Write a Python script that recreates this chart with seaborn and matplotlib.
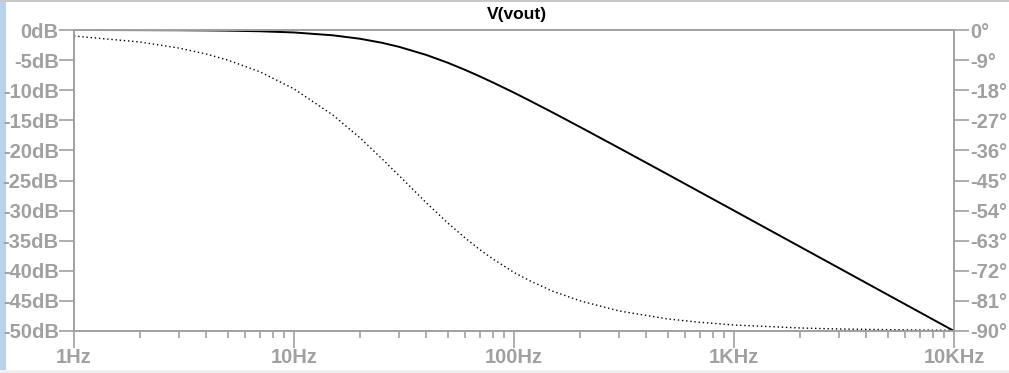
import numpy as np
import pandas as pd
import matplotlib
matplotlib.use("Agg")
import matplotlib.pyplot as plt
import matplotlib.ticker as mticker
from matplotlib.patches import Rectangle
import seaborn as sns

# ---- data ----
freq_hz = [1, 2, 3, 4, 5, 7, 10, 15, 20, 25, 30, 40, 50, 60, 70, 80, 100, 120,
           150, 200, 300, 500, 700, 1000, 2000, 3000, 5000, 7000, 10000]
mag_db = [0.0, -0.02, -0.04, -0.07, -0.11, -0.21, -0.41, -0.88, -1.46, -2.11,
          -2.79, -4.15, -5.44, -6.63, -7.71, -8.70, -10.41, -11.88, -13.71,
          -16.13, -19.59, -23.99, -26.91, -30.0, -36.02, -39.54, -43.98,
          -46.9, -50.0]
phase_deg = [-1.8, -3.6, -5.4, -7.2, -9.0, -12.5, -17.6, -25.4, -32.3, -38.4,
             -43.5, -51.7, -57.7, -62.2, -65.7, -68.4, -72.5, -75.2, -78.1,
             -81.0, -84.0, -86.4, -87.4, -88.2, -89.1, -89.4, -89.6, -89.7,
             -89.8]
title = "V(vout)"
x_ticks = [1, 10, 100, 1000, 10000]
x_labels = ["1Hz", "10Hz", "100Hz", "1KHz", "10KHz"]
db_ticks = [0, -5, -10, -15, -20, -25, -30, -35, -40, -45, -50]
deg_ticks = [0, -9, -18, -27, -36, -45, -54, -63, -72, -81, -90]

df = pd.DataFrame({"f": freq_hz, "mag": mag_db, "ph": phase_deg})

sns.set_theme(style="white")
plt.rcParams["font.family"] = ["Liberation Sans", "DejaVu Sans"]
plt.rcParams["font.weight"] = "bold"

W, H = 1009, 373
fig = plt.figure(figsize=(W / 100, H / 100), dpi=100)
fig.patch.set_facecolor("white")

L, R, T, B = 74, 954, 30, 331
ax = fig.add_axes([L / W, 1 - B / H, (R - L) / W, (B - T) / H])
ax2 = ax.twinx()

grey = "#a0a0a0"
sns.lineplot(data=df, x="f", y="mag", ax=ax, color="black", lw=1.4,
             estimator=None, sort=False)
sns.lineplot(data=df, x="f", y="ph", ax=ax2, color="black", lw=1.0,
             linestyle=(0, (1, 2)), estimator=None, sort=False)

for a in (ax, ax2):
    a.set_xscale("log")
    a.set_xlim(1, 10000)
    a.set_xlabel("")
    a.set_ylabel("")
    a.grid(False)
    for s in a.spines.values():
        s.set_color(grey)
        s.set_linewidth(1.2)
        s.set_visible(True)

fs = 14.5
lab = dict(family="Liberation Sans", fontweight="bold", fontsize=fs, color=grey)

ax.set_ylim(-50, 0)
ax2.set_ylim(-90, 0)
ax.set_yticks(db_ticks)
ax.set_yticklabels([f"{v}dB" for v in db_ticks], **lab)
ax2.set_yticks(deg_ticks)
ax2.set_yticklabels([f"{v}\u00b0" for v in deg_ticks], **lab)
ax.set_xticks(x_ticks)
ax.set_xticklabels(x_labels, **lab)
ax.xaxis.set_minor_locator(mticker.LogLocator(base=10, subs=np.arange(2, 10)))
ax.xaxis.set_minor_formatter(mticker.NullFormatter())

ax.tick_params(axis="y", which="major", direction="out", length=11, width=1.2,
               color=grey, pad=0, left=True)
ax2.tick_params(axis="y", which="major", direction="out", length=11, width=1.2,
                color=grey, pad=1, right=True)
ax.tick_params(axis="x", which="major", direction="out", length=12, width=1.2,
               color=grey, pad=0, bottom=True)
ax.tick_params(axis="x", which="minor", direction="out", length=5, width=1.2,
               color=grey, bottom=True)

fig.text((L + R) / 2 / W + 0.003, 1 - 15 / H, title, ha="center", va="center",
         family="Liberation Sans", fontsize=12.5, fontweight="bold", color="black")

# window chrome
fig.patches.append(Rectangle((0, 0), 6 / W, 1, transform=fig.transFigure,
                             facecolor="#b9d1ea", edgecolor="none", zorder=-1))
fig.patches.append(Rectangle((0, 1 - 2 / H), 1, 2 / H, transform=fig.transFigure,
                             facecolor="#c8c8c8", edgecolor="none", zorder=-1))
fig.patches.append(Rectangle((0, 0), 1, 3 / H, transform=fig.transFigure,
                             facecolor="#f0f0f0", edgecolor="none", zorder=-1))

fig.savefig("out.png", dpi=100)
